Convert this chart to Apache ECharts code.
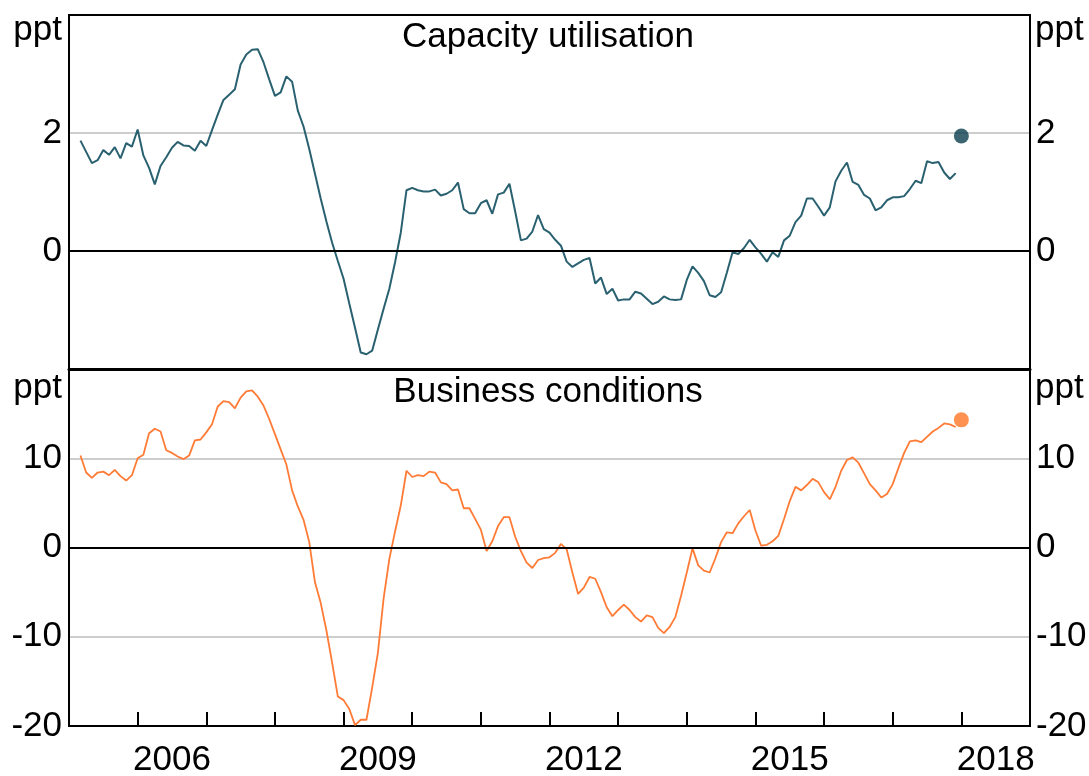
<!DOCTYPE html>
<html>
<head>
<meta charset="utf-8">
<script src="https://cdn.jsdelivr.net/npm/echarts@6/dist/echarts.min.js"></script>
<style>
html,body{margin:0;padding:0;background:#fff;}
#chart{width:1089px;height:776px;}
</style>
</head>
<body>
<div id="chart"></div>
<script>
// Monthly observations, March 2005 to December 2017
const startYear = 2005;
const startMonth = 3;
const capacityUtilisation = [
  1.87,1.68,1.49,1.54,1.71,1.63,1.76,1.57,1.83,1.77,2.06,1.62,
  1.41,1.13,1.44,1.59,1.75,1.85,1.79,1.78,1.70,1.87,1.78,2.05,
  2.31,2.56,2.65,2.74,3.16,3.33,3.41,3.42,3.20,2.91,2.63,2.69,
  2.96,2.87,2.38,2.11,1.73,1.31,0.89,0.50,0.14,-0.17,-0.47,-0.89,
  -1.30,-1.72,-1.75,-1.69,-1.33,-0.98,-0.64,-0.19,0.31,1.03,1.07,1.03,
  1.01,1.01,1.04,0.94,0.97,1.03,1.16,0.71,0.64,0.64,0.81,0.86,
  0.63,0.96,0.99,1.14,0.67,0.18,0.21,0.33,0.61,0.37,0.31,0.19,
  0.09,-0.18,-0.27,-0.21,-0.15,-0.12,-0.55,-0.45,-0.73,-0.64,-0.84,-0.82,
  -0.82,-0.69,-0.72,-0.81,-0.90,-0.86,-0.77,-0.82,-0.83,-0.82,-0.49,-0.26,
  -0.37,-0.51,-0.75,-0.78,-0.70,-0.37,-0.02,-0.05,0.05,0.19,0.06,-0.05,
  -0.18,-0.02,-0.10,0.18,0.26,0.49,0.60,0.89,0.89,0.75,0.60,0.74,
  1.18,1.36,1.50,1.17,1.12,0.95,0.89,0.69,0.74,0.86,0.91,0.91,
  0.93,1.05,1.19,1.15,1.52,1.49,1.51,1.33,1.22,1.32
];
const businessConditions = [
  10.3,8.4,7.8,8.4,8.5,8.1,8.7,8.0,7.5,8.1,10.0,10.4,
  12.8,13.3,13.0,10.9,10.6,10.2,9.9,10.3,12.0,12.1,12.9,13.8,
  15.8,16.4,16.3,15.6,16.8,17.5,17.6,16.9,15.9,14.4,12.7,11.0,
  9.3,6.4,4.6,3.1,0.6,-3.9,-6.2,-9.3,-12.9,-16.7,-17.1,-18.1,
  -19.9,-19.3,-19.3,-15.7,-11.8,-5.7,-1.3,1.8,4.7,8.6,7.9,8.1,
  8.0,8.5,8.4,7.3,7.1,6.4,6.5,4.4,4.4,3.2,2.0,-0.4,
  0.7,2.4,3.4,3.4,1.2,-0.4,-1.7,-2.3,-1.4,-1.2,-1.1,-0.6,
  0.4,-0.2,-2.8,-5.2,-4.5,-3.3,-3.5,-5.0,-6.7,-7.7,-7.0,-6.4,
  -7.0,-7.8,-8.3,-7.6,-7.8,-9.0,-9.6,-8.9,-7.8,-5.4,-2.8,-0.1,
  -2.0,-2.6,-2.8,-1.2,0.6,1.7,1.6,2.7,3.5,4.2,1.9,0.2,
  0.3,0.7,1.3,3.2,5.2,6.8,6.4,7.0,7.7,7.3,6.2,5.4,
  6.8,8.6,9.8,10.1,9.5,8.3,7.1,6.4,5.6,6.0,7.1,8.9,
  10.6,11.9,12.0,11.8,12.4,13.0,13.4,13.9,13.8,13.5
];
// Latest (January 2018) readings shown as dots
const latestDate = 2018.0;
const latestCapacity = 1.95;
const latestBusiness = 14.3;

const yearCategories = ['2005','2006','2007','2008','2009','2010','2011','2012','2013','2014','2015','2016','2017','2018'];
const yearLabels = ['2006','2009','2012','2015','2018'];
const topTickLabels = [0, 2];
const bottomTickLabels = [-20, -10, 0, 10];

function monthTime(i) {
  const m = startMonth - 1 + i;
  return startYear + m / 12;
}
const capData = capacityUtilisation.map((v, i) => [monthTime(i), v]);
const busData = businessConditions.map((v, i) => [monthTime(i), v]);

const FONT = "'Liberation Sans', Arial, sans-serif";
const FS = 35;
const teal = '#2A6170';
const tealDot = '#0C3F4D';
const orange = '#FF7B36';
const orangeDot = '#FF7726';

const L = 69, R = 59;

const zeroLine = {
  silent: true,
  symbol: 'none',
  label: { show: false },
  lineStyle: { color: '#000', width: 2, type: 'solid' },
  data: [{ yAxis: 0 }]
};

const frameLine = { show: true, onZero: false, lineStyle: { color: '#000', width: 2 } };
const separatorLine = { show: true, onZero: false, lineStyle: { color: '#000', width: 3 } };
const gridSplit = { show: true, showMinLine: false, showMaxLine: false, lineStyle: { color: '#BDBDBD', width: 1.5 } };

const chart = echarts.init(document.getElementById('chart'), null, { renderer: 'canvas' });
chart.setOption({
  animation: false,
  backgroundColor: '#fff',
  textStyle: { fontFamily: FONT },
  grid: [
    { left: L, right: R, top: 15, height: 354, outerBoundsMode: 'none', containLabel: false,
      show: true, borderColor: '#000', borderWidth: 2, backgroundColor: 'transparent' },
    { left: L, right: R, top: 369, height: 357, outerBoundsMode: 'none', containLabel: false,
      show: true, borderColor: '#000', borderWidth: 2, backgroundColor: 'transparent' }
  ],
  xAxis: [
    { gridIndex: 0, type: 'value', min: 2005, max: 2019, interval: 1, position: 'top',
      axisLine: frameLine, axisTick: { show: false }, axisLabel: { show: false }, splitLine: { show: false } },
    { gridIndex: 0, type: 'value', min: 2005, max: 2019, interval: 1, position: 'bottom',
      axisLine: separatorLine, axisTick: { show: false }, axisLabel: { show: false }, splitLine: { show: false } },
    { gridIndex: 1, type: 'value', min: 2005, max: 2019, interval: 1, position: 'bottom',
      axisLine: frameLine,
      axisTick: { show: true, inside: true, length: 14, lineStyle: { color: '#000', width: 2 } },
      axisLabel: { show: false }, splitLine: { show: false } },
    { gridIndex: 1, type: 'category', data: yearCategories, boundaryGap: true, position: 'bottom',
      axisLine: { show: false }, axisTick: { show: false }, splitLine: { show: false },
      axisLabel: { show: true, interval: 0, margin: 17, color: '#000', fontSize: FS, fontFamily: FONT,
        formatter: v => yearLabels.includes(v) ? v : '' } }
  ],
  yAxis: [
    { gridIndex: 0, type: 'value', min: -2, max: 4, interval: 2, position: 'left',
      axisLine: frameLine, axisTick: { show: false },
      axisLabel: { color: '#000', fontSize: FS, fontFamily: FONT, margin: 7,
        formatter: v => topTickLabels.includes(v) ? String(v) : '' },
      splitLine: gridSplit },
    { gridIndex: 0, type: 'value', min: -2, max: 4, interval: 2, position: 'right',
      axisLine: frameLine, axisTick: { show: false },
      axisLabel: { color: '#000', fontSize: FS, fontFamily: FONT, margin: 6,
        formatter: v => topTickLabels.includes(v) ? String(v) : '' },
      splitLine: { show: false } },
    { gridIndex: 1, type: 'value', min: -20, max: 20, interval: 10, position: 'left',
      axisLine: frameLine, axisTick: { show: false },
      axisLabel: { color: '#000', fontSize: FS, fontFamily: FONT, margin: 7,
        formatter: v => bottomTickLabels.includes(v) ? String(v) : '' },
      splitLine: gridSplit },
    { gridIndex: 1, type: 'value', min: -20, max: 20, interval: 10, position: 'right',
      axisLine: frameLine, axisTick: { show: false },
      axisLabel: { color: '#000', fontSize: FS, fontFamily: FONT, margin: 6,
        formatter: v => bottomTickLabels.includes(v) ? String(v) : '' },
      splitLine: { show: false } }
  ],
  series: [
    { name: 'Capacity utilisation', type: 'line', xAxisIndex: 0, yAxisIndex: 0, data: capData,
      showSymbol: false, symbol: 'none', lineStyle: { color: teal, width: 2 }, z: 3, markLine: zeroLine },
    { type: 'scatter', xAxisIndex: 0, yAxisIndex: 0, data: [[latestDate, latestCapacity]],
      symbolSize: 15, itemStyle: { color: tealDot }, z: 4 },
    { name: 'Business conditions', type: 'line', xAxisIndex: 2, yAxisIndex: 2, data: busData,
      showSymbol: false, symbol: 'none', lineStyle: { color: orange, width: 1.8 }, z: 3, markLine: zeroLine },
    { type: 'scatter', xAxisIndex: 2, yAxisIndex: 2, data: [[latestDate, latestBusiness]],
      symbolSize: 15, itemStyle: { color: orangeDot }, z: 4 }
  ],
  graphic: [
    { type: 'text', x: 548, y: 37, style: { text: 'Capacity utilisation', font: FS + 'px ' + FONT, fill: '#000', textAlign: 'center', textVerticalAlign: 'middle' } },
    { type: 'text', x: 548, y: 392, style: { text: 'Business conditions', font: FS + 'px ' + FONT, fill: '#000', textAlign: 'center', textVerticalAlign: 'middle' } },
    { type: 'text', x: 62, y: 30, style: { text: 'ppt', font: FS + 'px ' + FONT, fill: '#000', textAlign: 'right', textVerticalAlign: 'middle' } },
    { type: 'text', x: 1035, y: 30, style: { text: 'ppt', font: FS + 'px ' + FONT, fill: '#000', textAlign: 'left', textVerticalAlign: 'middle' } },
    { type: 'text', x: 62, y: 388, style: { text: 'ppt', font: FS + 'px ' + FONT, fill: '#000', textAlign: 'right', textVerticalAlign: 'middle' } },
    { type: 'text', x: 1035, y: 388, style: { text: 'ppt', font: FS + 'px ' + FONT, fill: '#000', textAlign: 'left', textVerticalAlign: 'middle' } }
  ]
});
</script>
</body>
</html>
